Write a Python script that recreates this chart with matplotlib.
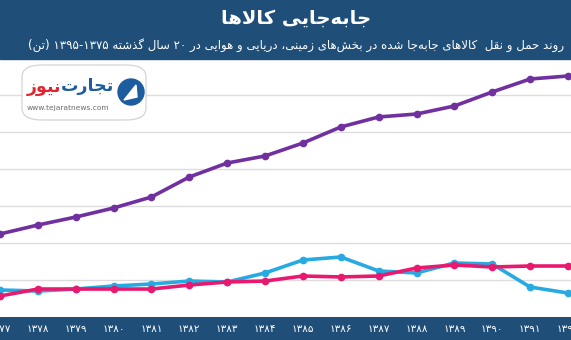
import matplotlib
matplotlib.use("Agg")
import matplotlib.pyplot as plt
from matplotlib.patches import Rectangle, FancyBboxPatch, Ellipse, Polygon

# yearly freight moved (million tonnes)
years = list(range(1377, 1393))
land = [112.2, 124.3, 135.1, 147.3, 162.2, 189.2, 208.1, 217.6,
        235.1, 256.8, 270.3, 274.3, 285.1, 304.1, 321.6, 325.7]
sea = [36.5, 35.1, 37.8, 41.9, 44.6, 48.6, 47.3, 59.5,
       77.0, 81.1, 62.2, 59.5, 73.0, 71.6, 40.5, 32.4]
air = [28.4, 37.8, 37.8, 37.8, 37.8, 43.2, 47.3, 48.6,
       55.4, 54.1, 55.4, 66.2, 70.3, 67.6, 68.9, 68.9]
year_labels = ["۱۳۷۷", "۱۳۷۸", "۱۳۷۹", "۱۳۸۰", "۱۳۸۱", "۱۳۸۲", "۱۳۸۳", "۱۳۸۴",
               "۱۳۸۵", "۱۳۸۶", "۱۳۸۷", "۱۳۸۸", "۱۳۸۹", "۱۳۹۰", "۱۳۹۱", "۱۳۹۲"]

title = "جابه‌جایی کالاها"
subtitle = ("روند حمل و نقل  کالاهای جابه‌جا شده در بخش‌های زمینی، دریایی و هوایی "
            "در ۲۰ سال گذشته ۱۳۹۵-۱۳۷۵ (تن)")

NAVY = "#1f4e79"
PURPLE = "#7030a0"
CYAN = "#27a9e1"
PINK = "#e8196e"

# isolated, final, initial, medial presentation forms
FORMS = {
    "ا": ("\uFE8D", "\uFE8E", None, None),
    "ب": ("\uFE8F", "\uFE90", "\uFE91", "\uFE92"),
    "ت": ("\uFE95", "\uFE96", "\uFE97", "\uFE98"),
    "ج": ("\uFE9D", "\uFE9E", "\uFE9F", "\uFEA0"),
    "ح": ("\uFEA1", "\uFEA2", "\uFEA3", "\uFEA4"),
    "خ": ("\uFEA5", "\uFEA6", "\uFEA7", "\uFEA8"),
    "د": ("\uFEA9", "\uFEAA", None, None),
    "ذ": ("\uFEAB", "\uFEAC", None, None),
    "ر": ("\uFEAD", "\uFEAE", None, None),
    "ز": ("\uFEAF", "\uFEB0", None, None),
    "س": ("\uFEB1", "\uFEB2", "\uFEB3", "\uFEB4"),
    "ش": ("\uFEB5", "\uFEB6", "\uFEB7", "\uFEB8"),
    "ق": ("\uFED5", "\uFED6", "\uFED7", "\uFED8"),
    "ک": ("\uFB8E", "\uFB8F", "\uFB90", "\uFB91"),
    "گ": ("\uFB92", "\uFB93", "\uFB94", "\uFB95"),
    "ل": ("\uFEDD", "\uFEDE", "\uFEDF", "\uFEE0"),
    "م": ("\uFEE1", "\uFEE2", "\uFEE3", "\uFEE4"),
    "ن": ("\uFEE5", "\uFEE6", "\uFEE7", "\uFEE8"),
    "و": ("\uFEED", "\uFEEE", None, None),
    "ه": ("\uFEE9", "\uFEEA", "\uFEEB", "\uFEEC"),
    "ی": ("\uFBFC", "\uFBFD", "\uFBFE", "\uFBFF"),
}
ZWNJ = "\u200c"


def joins_next(c):
    return c in FORMS and FORMS[c][2] is not None


def shape_word(word):
    items = []
    i = 0
    while i < len(word):
        if word[i] == "ل" and i + 1 < len(word) and word[i + 1] == "ا":
            items.append("LA")
            i += 2
        else:
            items.append(word[i])
            i += 1
    out = []
    for k, c in enumerate(items):
        prev = items[k - 1] if k > 0 else None
        nxt = items[k + 1] if k + 1 < len(items) else None
        jp = prev is not None and joins_next(prev)
        if c == "LA":
            out.append("\uFEFC" if jp else "\uFEFB")
            continue
        if c not in FORMS:
            if c != ZWNJ:
                out.append(c)
            continue
        jn = joins_next(c) and (nxt in FORMS or nxt == "LA")
        iso, fin, ini, med = FORMS[c]
        if jp and jn:
            out.append(med)
        elif jp:
            out.append(fin)
        elif jn:
            out.append(ini)
        else:
            out.append(iso)
    return "".join(reversed(out)).translate(str.maketrans("()", ")("))


def rtl(text):
    words = []
    for w in text.split(" "):
        if all(ch in "۰۱۲۳۴۵۶۷۸۹-" for ch in w):
            words.append(w)
        else:
            words.append(shape_word(w))
    return " ".join(reversed(words))


plt.rcParams["font.family"] = ["DejaVu Sans"]

fig = plt.figure(figsize=(5.71, 3.40), dpi=100)
W, H = 571, 340
ax = fig.add_axes([0, 23 / H, 1, 1 - 23 / H])

ax.plot(years, land, color=PURPLE, lw=2.6, marker="o", ms=4.5, zorder=3)
ax.plot(years, sea, color=CYAN, lw=2.6, marker="o", ms=4.5, zorder=3)
ax.plot(years, air, color=PINK, lw=2.6, marker="o", ms=4.5, zorder=4)

ax.set_xlim(1377.14, 1392.08)
ax.set_ylim(0, 317 * 50 / 37)
ax.set_yticks(range(50, 450, 50))
ax.set_yticklabels([])
ax.grid(axis="y", color="#dcdcdc", lw=1)
ax.set_axisbelow(True)
ax.set_xticks(years)
ax.set_xticklabels(year_labels)
ax.tick_params(axis="x", colors="white", length=0, pad=5, labelsize=7.5)
ax.tick_params(axis="y", length=0)
for s in ax.spines.values():
    s.set_visible(False)

# header and footer bands
fig.patches.append(Rectangle((0, 1 - 59 / H), 1, 59 / H, transform=fig.transFigure,
                             color=NAVY, zorder=5))
fig.patches.append(Rectangle((0, 0), 1, 23 / H, transform=fig.transFigure,
                             color=NAVY, zorder=-1))
fig.text(0.518, 1 - 18 / H, rtl(title), color="white", fontsize=14, fontweight="bold",
         ha="center", va="center", zorder=6)
fig.text(0.518, 1 - 45 / H, rtl(subtitle), color="white", fontsize=8.5,
         ha="center", va="center", zorder=6)

# logo
fig.patches.append(FancyBboxPatch((22 / W, 1 - 120 / H), 124 / W, 55 / H,
                                  boxstyle="round,pad=0,rounding_size=0.035",
                                  transform=fig.transFigure, fc="white",
                                  ec="#d0d0d0", lw=0.8, zorder=5))
fig.patches.append(Ellipse((131 / W, 1 - 92 / H), 26 / W, 26 / H,
                           transform=fig.transFigure, color="#1d5c9e", zorder=6))
fig.patches.append(Polygon([(124 / W, 1 - 100 / H), (136 / W, 1 - 85 / H),
                            (137 / W, 1 - 97 / H)], closed=True,
                           transform=fig.transFigure, color="white", zorder=7))
fig.text(114 / W, 1 - 86 / H, shape_word("تجارت"), color="#1d5c9e", fontsize=12.5,
         fontweight="bold", ha="right", va="center", zorder=7)
fig.text(61 / W, 1 - 87 / H, shape_word("نیوز"), color="#e22430", fontsize=12.5,
         fontweight="bold", ha="right", va="center", zorder=7)
fig.text(68 / W, 1 - 108 / H, "www.tejaratnews.com", color="#6b6b6b", fontsize=5.4,
         ha="center", va="center", zorder=7)

fig.savefig("out.png", dpi=100)
